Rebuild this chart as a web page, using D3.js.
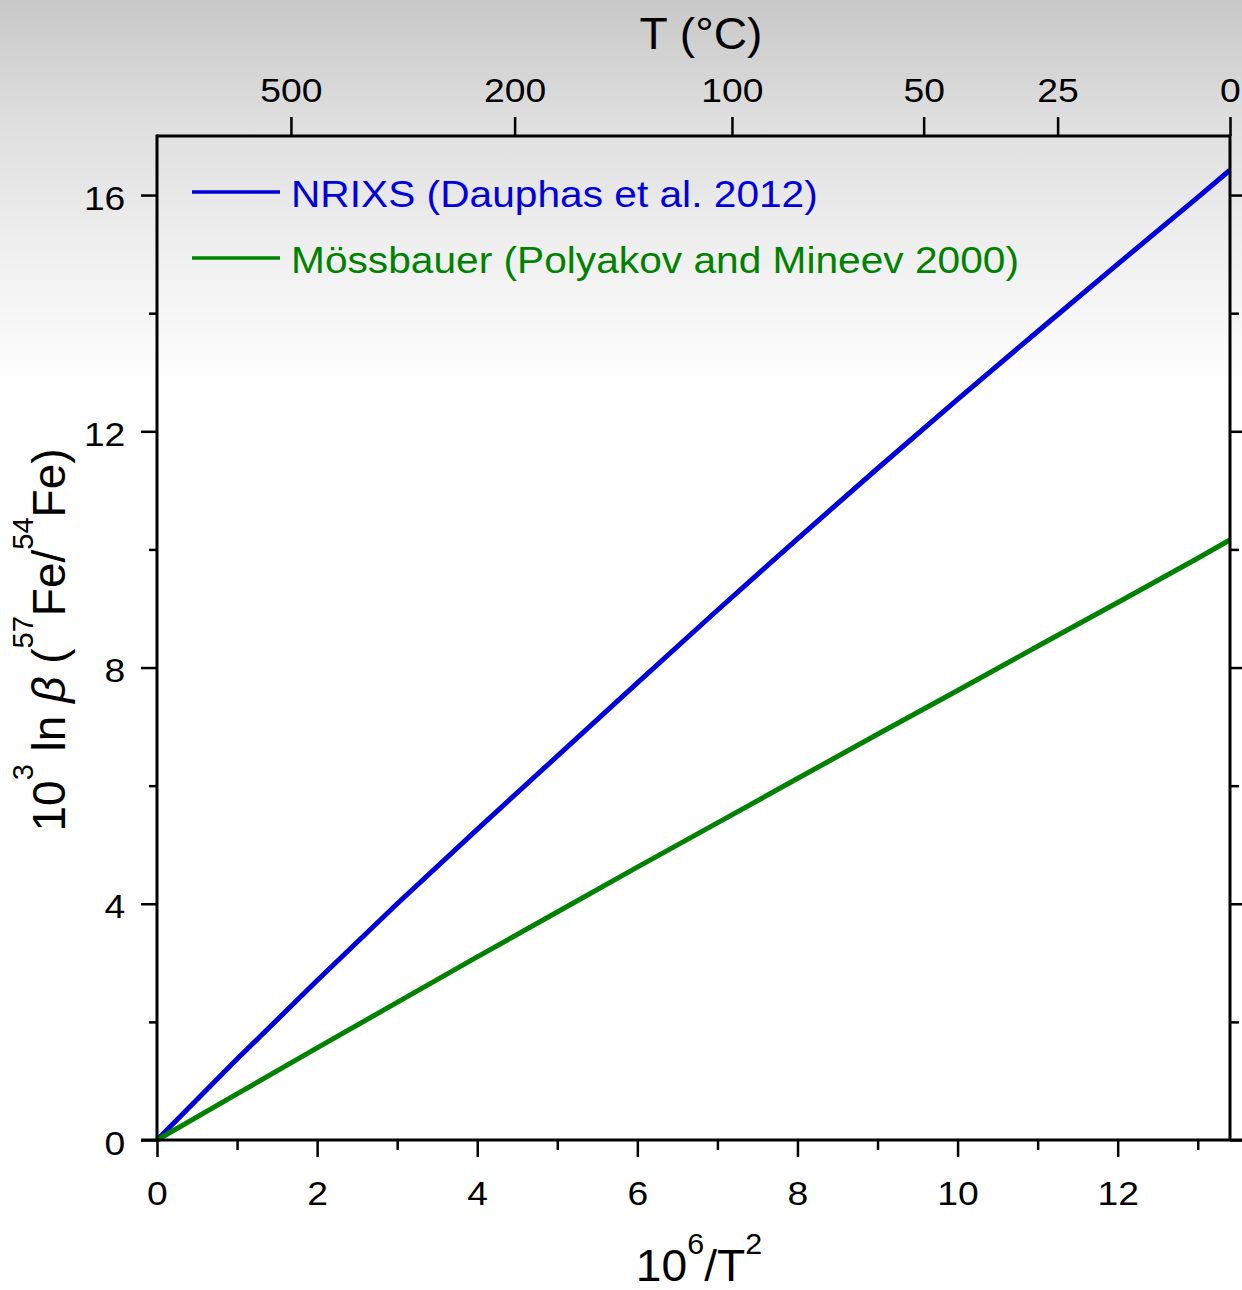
<!DOCTYPE html>
<html>
<head>
<meta charset="utf-8">
<script src="https://cdn.jsdelivr.net/npm/d3@7"></script>
<style>
  html, body { margin: 0; padding: 0; background: #fff; }
  svg { display: block; }
  text { font-family: "Liberation Sans", Arial, Helvetica, sans-serif; }
</style>
</head>
<body>
<svg id="chart" width="1242" height="1290"></svg>
<script>
// 10^6/T^2 (T in kelvin)
const xValues = [0, 1, 2, 3, 4, 5, 6, 7, 8, 9, 10, 11, 12, 13, 13.40];
// 10^3 ln beta (57Fe/54Fe)
const nrixsValues = [0, 1.37, 2.70, 4.00, 5.26, 6.50, 7.74, 8.97, 10.18, 11.37, 12.54, 13.69, 14.83, 15.96, 16.42];
const mossbauerValues = [0, 0.78, 1.56, 2.33, 3.10, 3.86, 4.62, 5.37, 6.12, 6.87, 7.61, 8.36, 9.10, 9.85, 10.16];

const seriesNames = ["NRIXS (Dauphas et al. 2012)", "Mössbauer (Polyakov and Mineev 2000)"];
const seriesColors = ["#0000dc", "#008200"];

const xMajorTicks = [0, 2, 4, 6, 8, 10, 12];
const xMinorTicks = [1, 3, 5, 7, 9, 11, 13];
const yMajorTicks = [0, 4, 8, 12, 16];
const yMinorTicks = [2, 6, 10, 14];
const tempTicks = [500, 200, 100, 50, 25, 0];   // °C, top axis

const FONT = '"Liberation Sans", Arial, Helvetica, sans-serif';
const SX = 1.13;  // lettering is slightly wide
const toInvT2 = c => 1e6 / ((c + 273.15) * (c + 273.15));

const svg = d3.select("#chart");
const W = 1242, H = 1290;
const L = 157, R = 1230, T = 136, B = 1140;

const x = d3.scaleLinear().domain([0, toInvT2(0)]).range([L, R]);
const y = d3.scaleLinear().domain([0, 17]).range([B, T]);

// backdrop: grey fading to white towards the middle of the page
const defs = svg.append("defs");
const grad = defs.append("linearGradient").attr("id", "bg")
  .attr("gradientUnits", "userSpaceOnUse")
  .attr("x1", 0).attr("y1", 0).attr("x2", 0).attr("y2", 400);
[[0, "#c8c8c8"], [0.3, "#dedede"], [0.6, "#eeeeee"], [0.85, "#f9f9f9"], [0.97, "#ffffff"]]
  .forEach(([o, c]) => grad.append("stop").attr("offset", o).attr("stop-color", c));
svg.append("rect").attr("width", W).attr("height", H).attr("fill", "url(#bg)");

// data curves
const line = d3.line().x(d => x(d[0])).y(d => y(d[1]));
const series = [nrixsValues, mossbauerValues];
series.forEach((vals, i) => {
  svg.append("path")
    .datum(xValues.map((v, k) => [v, vals[k]]))
    .attr("d", line)
    .attr("fill", "none")
    .attr("stroke", seriesColors[i])
    .attr("stroke-width", 5)
    .attr("stroke-linejoin", "round");
});

function styleAxis(g, fontSize) {
  g.attr("font-family", FONT).attr("font-size", fontSize);
  g.select(".domain").remove();
  g.selectAll(".tick line").attr("stroke", "#000").attr("stroke-width", 2.5);
  g.selectAll(".tick text").attr("fill", "#000");
}

// bottom axis
svg.append("g").attr("transform", `translate(0,${B})`)
  .call(d3.axisBottom(x).tickValues(xMajorTicks).tickSize(17).tickPadding(25).tickFormat(d3.format("d")))
  .call(g => styleAxis(g, 33))
  .call(g => g.selectAll(".tick text").attr("transform", `scale(${SX},1)`));
svg.append("g").attr("transform", `translate(0,${B})`)
  .call(d3.axisBottom(x).tickValues(xMinorTicks).tickSize(10).tickFormat(""))
  .call(g => styleAxis(g, 33));

// left axis
svg.append("g").attr("transform", `translate(${L},0)`)
  .call(d3.axisLeft(y).tickValues(yMajorTicks).tickSize(16).tickPadding(12).tickFormat(d3.format("d")))
  .call(g => styleAxis(g, 33))
  .call(g => g.selectAll(".tick text").attr("dy", "0.43em").attr("transform", `scale(${SX},1)`));
svg.append("g").attr("transform", `translate(${L},0)`)
  .call(d3.axisLeft(y).tickValues(yMinorTicks).tickSize(8).tickFormat(""))
  .call(g => styleAxis(g, 33));

// right axis
svg.append("g").attr("transform", `translate(${R},0)`)
  .call(d3.axisRight(y).tickValues(yMajorTicks).tickSize(14).tickFormat(""))
  .call(g => styleAxis(g, 33));
svg.append("g").attr("transform", `translate(${R},0)`)
  .call(d3.axisRight(y).tickValues(yMinorTicks).tickSize(9).tickFormat(""))
  .call(g => styleAxis(g, 33));

// top axis in °C
svg.append("g").attr("transform", `translate(0,${T})`)
  .call(d3.axisTop(x).tickValues(tempTicks.map(toInvT2)).tickSize(19).tickPadding(15)
    .tickFormat((d, i) => tempTicks[i]))
  .call(g => styleAxis(g, 33))
  .call(g => g.selectAll(".tick text").attr("transform", `scale(${SX},1)`));

// frame
const frame = svg.append("g").attr("stroke", "#000").attr("stroke-width", 3).attr("fill", "none");
frame.append("line").attr("x1", L).attr("x2", R).attr("y1", T).attr("y2", T);
frame.append("line").attr("x1", L).attr("x2", L).attr("y1", T - 1.5).attr("y2", B);
frame.append("line").attr("x1", R).attr("x2", R).attr("y1", T - 1.5).attr("y2", B);
frame.append("line").attr("x1", 141).attr("x2", W).attr("y1", B).attr("y2", B);

// legend
series.forEach((vals, i) => {
  const ly = 192 + i * 66;
  svg.append("line").attr("x1", 192).attr("x2", 280).attr("y1", ly).attr("y2", ly)
    .attr("stroke", seriesColors[i]).attr("stroke-width", 3.5);
  svg.append("text")
    .attr("transform", `translate(291,${ly + 15}) scale(${SX},1)`)
    .attr("font-size", 36)
    .attr("fill", seriesColors[i])
    .text(seriesNames[i]);
});

// top title
svg.append("text")
  .attr("transform", `translate(701,49) scale(1.05,1)`)
  .attr("text-anchor", "middle")
  .attr("font-size", 44)
  .text("T (°C)");

// bottom title: 10^6/T^2
const bt = svg.append("text")
  .attr("transform", `translate(699,1281) scale(1.05,1)`)
  .attr("text-anchor", "middle")
  .attr("font-size", 44);
bt.append("tspan").text("10");
bt.append("tspan").attr("font-size", 29).attr("dy", -27).text("6");
bt.append("tspan").attr("dy", 27).text("/T");
bt.append("tspan").attr("font-size", 29).attr("dy", -27).text("2");

// left title: 10^3 ln β (57Fe/54Fe)
const lt = svg.append("text")
  .attr("transform", "translate(65,640) rotate(-90)")
  .attr("text-anchor", "middle")
  .attr("font-size", 46);
lt.append("tspan").text("10");
lt.append("tspan").attr("font-size", 29).attr("dy", -32).text("3");
lt.append("tspan").attr("dy", 32).text(" ln ");
lt.append("tspan").attr("font-style", "italic").text("β");
lt.append("tspan").text(" (");
lt.append("tspan").attr("font-size", 29).attr("dy", -32).text("57");
lt.append("tspan").attr("dy", 32).text("Fe/");
lt.append("tspan").attr("font-size", 29).attr("dy", -32).text("54");
lt.append("tspan").attr("dy", 32).text("Fe)");
</script>
</body>
</html>
